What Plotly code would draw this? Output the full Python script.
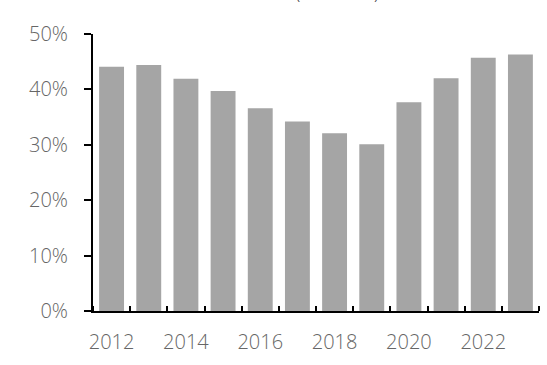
import plotly.graph_objects as go

years = [2012, 2013, 2014, 2015, 2016, 2017, 2018, 2019, 2020, 2021, 2022, 2023]
share = [44.1, 44.4, 41.9, 39.7, 36.6, 34.2, 32.1, 30.1, 37.7, 42.0, 45.7, 46.3]
x_labels = [2012, 2014, 2016, 2018, 2020, 2022]
y_ticks = [0, 10, 20, 30, 40, 50]
title_text = "Market share (% of total)"

fig = go.Figure()
fig.add_trace(go.Bar(x=years, y=share, marker=dict(color="#a5a5a5", line=dict(width=0)),
                     width=0.67))

fig.update_layout(
    width=547, height=365,
    margin=dict(l=93, r=8, t=34, b=54),
    paper_bgcolor="white", plot_bgcolor="white",
    showlegend=False,
    font=dict(family="Open Sans", color="#666666", size=20, weight=300),
)
fig.update_xaxes(
    range=[years[0] - 0.5, years[-1] + 0.5],
    tickmode="array", tickvals=x_labels, ticktext=[str(v) for v in x_labels],
    ticks="", showgrid=False, zeroline=False,
    showline=True, linecolor="black", linewidth=2,
    ticklabelstandoff=12,
    minor=dict(tickmode="array", tickvals=[y - 0.5 for y in years] + [years[-1] + 0.5],
               ticks="inside", ticklen=5, tickwidth=2, tickcolor="black", showgrid=False),
)
fig.update_yaxes(
    range=[0, 50], tickmode="array", tickvals=y_ticks,
    ticktext=[f"{v}%" for v in y_ticks],
    ticks="outside", ticklen=7, tickwidth=2, tickcolor="black",
    showgrid=False, zeroline=False,
    showline=True, linecolor="black", linewidth=2,
    ticklabelstandoff=12,
)
fig.add_annotation(text=title_text, xref="paper", yref="paper", x=0.646, y=1,
                   xanchor="right", yanchor="bottom", yshift=28, showarrow=False,
                   font=dict(size=17.5, color="#404040"))
fig.write_html("out.html")
